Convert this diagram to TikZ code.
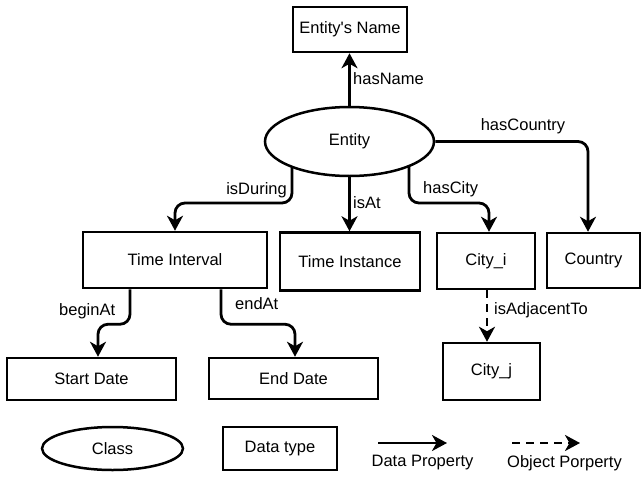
\documentclass[tikz,border=0pt]{standalone}
\usepackage{fontspec}
\newfontfamily\arialfont{Liberation Sans}
\usetikzlibrary{arrows.meta,shapes.geometric}
\pgfdeclarelayer{background}
\pgfsetlayers{background,main}
\begin{document}
\begin{tikzpicture}[x=1pt,y=-1pt,
  txt/.style={font=\arialfont\fontsize{16.5}{19}\selectfont},
  box/.style={txt,draw,line width=2.5pt,fill=white,inner sep=0pt},
  cls/.style={txt,draw,ellipse,line width=2.5pt,fill=white,inner sep=0pt},
  lbl/.style={txt,inner sep=0pt},
  arr/.style={line width=2.8pt,-{Stealth[length=15pt,width=16pt,inset=4.5pt]}},
  darr/.style={arr,dash pattern=on 8pt off 6pt},
  elbow/.style={rounded corners=10pt}]
\useasboundingbox (0,0) rectangle (642,479);

% classes and data types
\node[box,minimum width=114pt,minimum height=45pt] (name) at (350,29.5) {Entity's Name};
\node[cls,minimum width=169pt,minimum height=69pt] (entity) at (349.5,141.5) {Entity};
\node[box,minimum width=184pt,minimum height=56pt] (ti) at (175,260) {Time Interval};
\node[box,minimum width=140pt,minimum height=58pt] (tinst) at (350,261.5) {Time Instance};
\node[box,minimum width=98pt,minimum height=56pt] (cityi) at (486,261) {City\_i};
\node[box,minimum width=93pt,minimum height=55pt] (country) at (593.5,260.5) {Country};
\node[box,minimum width=169pt,minimum height=42pt] (sd) at (91.5,379) {Start Date};
\node[box,minimum width=169pt,minimum height=41pt] (ed) at (293.5,378.5) {End Date};
\node[box,minimum width=97pt,minimum height=57pt] (cityj) at (491.5,371.5) {City\_j};

% properties
\begin{pgfonlayer}{background}
\draw[arr] (entity.north) -- (entity.north |- name.south);
\draw[arr,elbow] (entity.east) -| ([xshift=-5.5pt]country.north);
\draw[arr,elbow] ([xshift=-57.5pt]entity.center) -- ++(0,61.5) -| (ti.north);
\draw[arr] (entity.south) -- (entity.south |- tinst.north);
\draw[arr,elbow] ([xshift=59.5pt]entity.center) -- ++(0,61.5) -| ([xshift=3pt]cityi.north);
\draw[arr,elbow] ([xshift=-45pt]ti.south) -- ++(0,35) -| ([xshift=6.5pt]sd.north);
\draw[arr,elbow] ([xshift=46pt]ti.south) -- ++(0,35) -| ([xshift=1.5pt]ed.north);
\draw[darr] ([xshift=1pt]cityi.south) -- ([xshift=-4.5pt]cityj.north);
\end{pgfonlayer}

% property labels
\node[lbl,anchor=west] (lname) at (353,79) {hasName};
\node[lbl] (lcountry) at (523,126) {hasCountry};
\node[lbl,anchor=east] (lduring) at (287,190) {isDuring};
\node[lbl,anchor=west] (lat) at (353,203) {isAt};
\node[lbl,anchor=west] (lcity) at (423,189) {hasCity};
\node[lbl,anchor=west] (lbegin) at (59,311) {beginAt};
\node[lbl,anchor=west] (lend) at (235,304) {endAt};
\node[lbl,anchor=west] (ladj) at (494,310) {isAdjacentTo};

% legend
\node[cls,minimum width=141pt,minimum height=43pt] (kclass) at (112.5,448.5) {Class};
\node[box,minimum width=114pt,minimum height=43pt] (ktype) at (280,448.5) {Data type};
\coordinate (dpa) at (378,443);
\coordinate (dpb) at (447,443);
\coordinate (opa) at (512,443);
\coordinate (opb) at (580,443);
\draw[arr] (dpa) -- (dpb);
\draw[darr] (opa) -- (opb);
\node[lbl] (kdp) at (422.5,463) {Data Property};
\node[lbl] (kop) at (564.5,463) {Object Porperty};
\end{tikzpicture}
\end{document}
